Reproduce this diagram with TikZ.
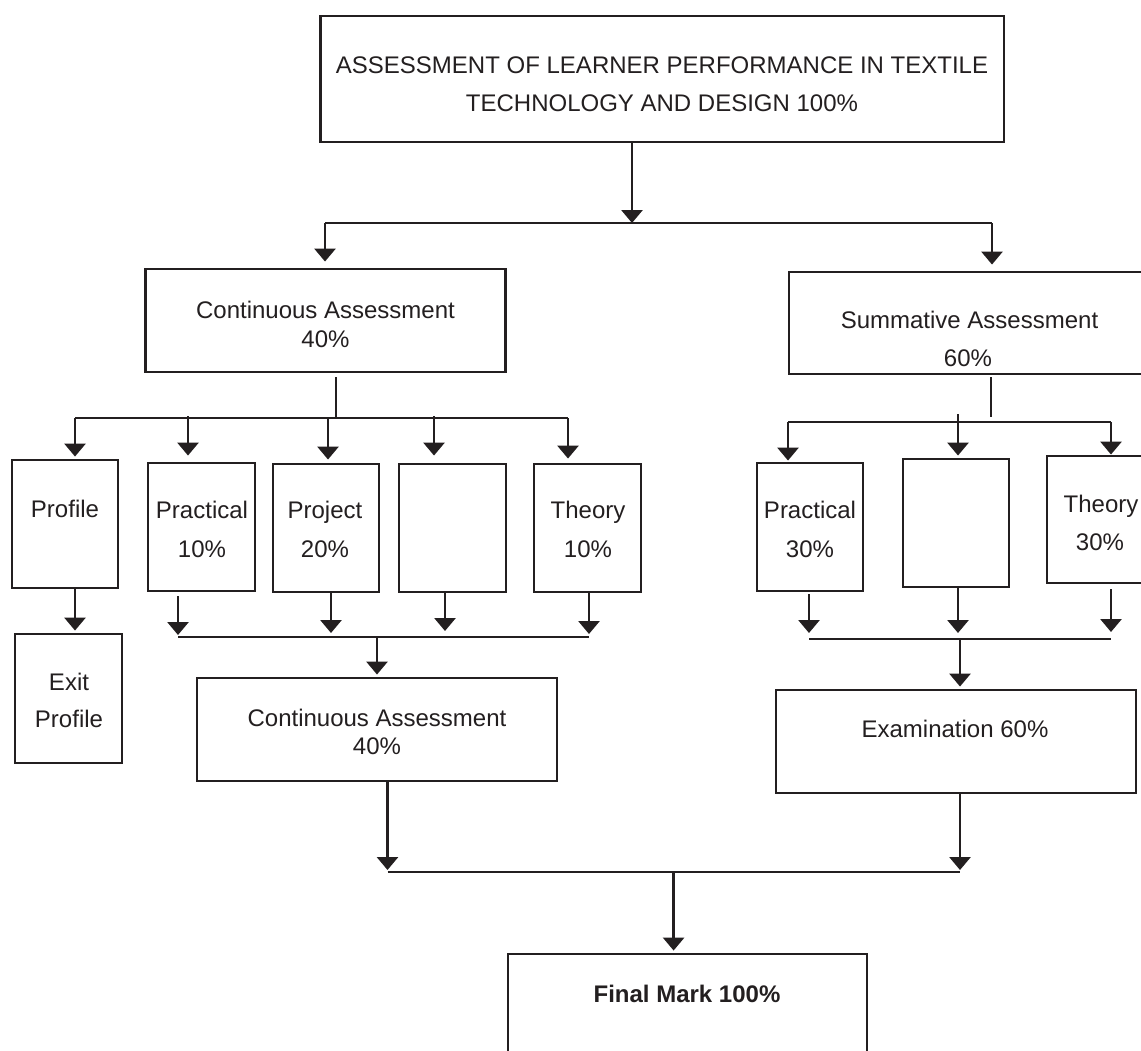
\documentclass[tikz,border=0pt]{standalone}
\usepackage{fontspec}
\setmainfont{Liberation Sans}
\usetikzlibrary{arrows.meta,fit}
\definecolor{ink}{HTML}{231F20}
\begin{document}
\begin{tikzpicture}[x=0.5pt,y={(0pt,-0.5pt)},
  box/.style={draw=ink, line width=1.45pt, inner sep=0pt},
  ln/.style={draw=ink, line width=1.45pt},
  arr/.style={draw=ink, line width=1.45pt, -{Triangle[width=10.5pt,length=6.5pt]}},
  txt/.style={text=ink, font=\fontsize{12}{14}\selectfont, anchor=base, inner sep=0pt},
  btxt/.style={txt, font=\fontsize{12}{14}\selectfont\bfseries}]
\useasboundingbox (0,0) rectangle (1141,1050);
\clip (0,0) rectangle (1141,1050);
\fill[white] (0,0) rectangle (1141,1050);

% boxes
\node[box, fit={(320.7,16) (1004,142)}] (top) {};
\node[box, fit={(145.5,269) (505.3,372)}] (ca) {};
\node[box, fit={(789,272) (1170,374)}] (sa) {};
\node[box, fit={(12,460) (118,588)}] (prof) {};
\node[box, fit={(148,463) (255,591)}] (prac) {};
\node[box, fit={(273,464) (379,592)}] (proj) {};
\node[box, fit={(399,464) (506,592)}] (emp) {};
\node[box, fit={(534,464) (641,592)}] (theo) {};
\node[box, fit={(15,634) (122,763)}] (exitp) {};
\node[box, fit={(197,678) (557,781)}] (lca) {};
\node[box, fit={(757,463) (863,591)}] (sprac) {};
\node[box, fit={(903,459) (1009,587)}] (semp) {};
\node[box, fit={(1047,456) (1170,583)}] (stheo) {};
\node[box, fit={(776,690) (1136,793)}] (exam) {};
\node[box, fit={(508,954) (867,1080)}] (final) {};

% texts
\node[txt] (tt1) at (662,73) {ASSESSMENT OF LEARNER PERFORMANCE IN TEXTILE};
\node[txt] (tt2) at (662,111) {TECHNOLOGY AND DESIGN 100\%};
\node[txt] (cat1) at (325.5,318) {Continuous Assessment};
\node[txt] (cat2) at (325.5,347) {40\%};
\node[txt] (sat1) at (969.5,328) {Summative Assessment};
\node[txt] (sat2) at (968,366) {60\%};
\node[txt] (proft) at (65,517) {Profile};
\node[txt] (prac1) at (202,518) {Practical};
\node[txt] (prac2) at (202,557) {10\%};
\node[txt] (proj1) at (325,518) {Project};
\node[txt] (proj2) at (325,557) {20\%};
\node[txt] (theo1) at (588,518) {Theory};
\node[txt] (theo2) at (588,557) {10\%};
\node[txt] (sprac1) at (810,518) {Practical};
\node[txt] (sprac2) at (810,557) {30\%};
\node[txt] (stheo1) at (1101,512) {Theory};
\node[txt] (stheo2) at (1100,550) {30\%};
\node[txt] (exit1) at (69,690) {Exit};
\node[txt] (exit2) at (69,727) {Profile};
\node[txt] (lcat1) at (377,726) {Continuous Assessment};
\node[txt] (lcat2) at (377,754) {40\%};
\node[txt] (examt) at (955,737) {Examination 60\%};
\node[btxt] (finalt) at (687,1002) {Final Mark 100\%};

% junction coordinates
\coordinate (j0) at (632,223);
\coordinate (jL) at (325,223);
\coordinate (jR) at (992,223);
\coordinate (jca) at (336,418);
\coordinate (c1) at (75,418);
\coordinate (c2) at (188,418);
\coordinate (c3) at (328,418);
\coordinate (c4) at (434,418);
\coordinate (c5) at (568,418);
\coordinate (b1) at (178,637);
\coordinate (b2) at (331,637);
\coordinate (b3) at (445,637);
\coordinate (b4) at (589,637);
\coordinate (bj) at (377,637);
\coordinate (pj) at (75,600);
\coordinate (jsa) at (991,417);
\coordinate (s1) at (788,422);
\coordinate (s2) at (958,418);
\coordinate (s3) at (1111,422);
\coordinate (t1) at (809,639);
\coordinate (t2) at (958,639);
\coordinate (t3) at (1111,639);
\coordinate (tj) at (960,639);
\coordinate (f1) at (387.5,872);
\coordinate (f2) at (960,872);
\coordinate (fj) at (673.6,872);

% top level
\draw[arr] (top.south -| j0) -- (j0);
\draw[ln] (jL) -- (jR);
\draw[arr, shorten >=3pt] (jL) -- (jL |- ca.north);
\draw[arr, shorten >=3pt] (jR) -- (jR |- sa.north);

% continuous assessment branch
\draw[ln] ([yshift=-2pt]ca.south -| jca) -- (jca);
\draw[ln] (c1) -- (c5);
\draw[arr, shorten >=1pt] (c1) -- (c1 |- prof.north);
\draw[arr, shorten >=3pt] ([yshift=1pt]c2) -- (c2 |- prac.north);
\draw[arr, shorten >=1.5pt] (c3) -- (c3 |- proj.north);
\draw[arr, shorten >=3.5pt] ([yshift=1pt]c4) -- (c4 |- emp.north);
\draw[arr, shorten >=2pt] (c5) -- (c5 |- theo.north);

\draw[arr, shorten >=1pt] (prof.south -| pj) -- (pj |- exitp.north);
\draw[arr, shorten >=1pt] ([yshift=-2pt]prac.south -| b1) -- (b1);
\draw[arr, shorten >=2pt] (proj.south -| b2) -- (b2);
\draw[arr, shorten >=3pt] (emp.south -| b3) -- (b3);
\draw[arr, shorten >=1.5pt] (theo.south -| b4) -- (b4);
\draw[ln] (b1) -- (b4);
\draw[arr, shorten >=1pt] (bj) -- (bj |- lca.north);

% summative assessment branch
\draw[ln] ([yshift=-1pt]sa.south -| jsa) -- (jsa);
\draw[ln] (s1) -- (s3);
\draw[arr, shorten >=0.5pt] (s1) -- (s1 |- sprac.north);
\draw[arr, shorten >=1pt] ([yshift=2pt]s2) -- (s2 |- semp.north);
\draw[arr] (s3) -- (s3 |- stheo.north);
\draw[arr, shorten >=3pt] ([yshift=-1pt]sprac.south -| t1) -- (t1);
\draw[arr, shorten >=3pt] (semp.south -| t2) -- (t2);
\draw[arr, shorten >=3.5pt] ([yshift=-2.5pt]stheo.south -| t3) -- (t3);
\draw[ln] (t1) -- (t3);
\draw[arr, shorten >=1pt] (tj) -- (tj |- exam.north);

% final
\draw[arr, shorten >=1pt] (lca.south -| f1) -- (f1);
\draw[arr, shorten >=1pt] (exam.south -| f2) -- (f2);
\draw[ln] (f1) -- (f2);
\draw[arr, shorten >=1pt] (fj) -- (fj |- final.north);
\end{tikzpicture}
\end{document}
